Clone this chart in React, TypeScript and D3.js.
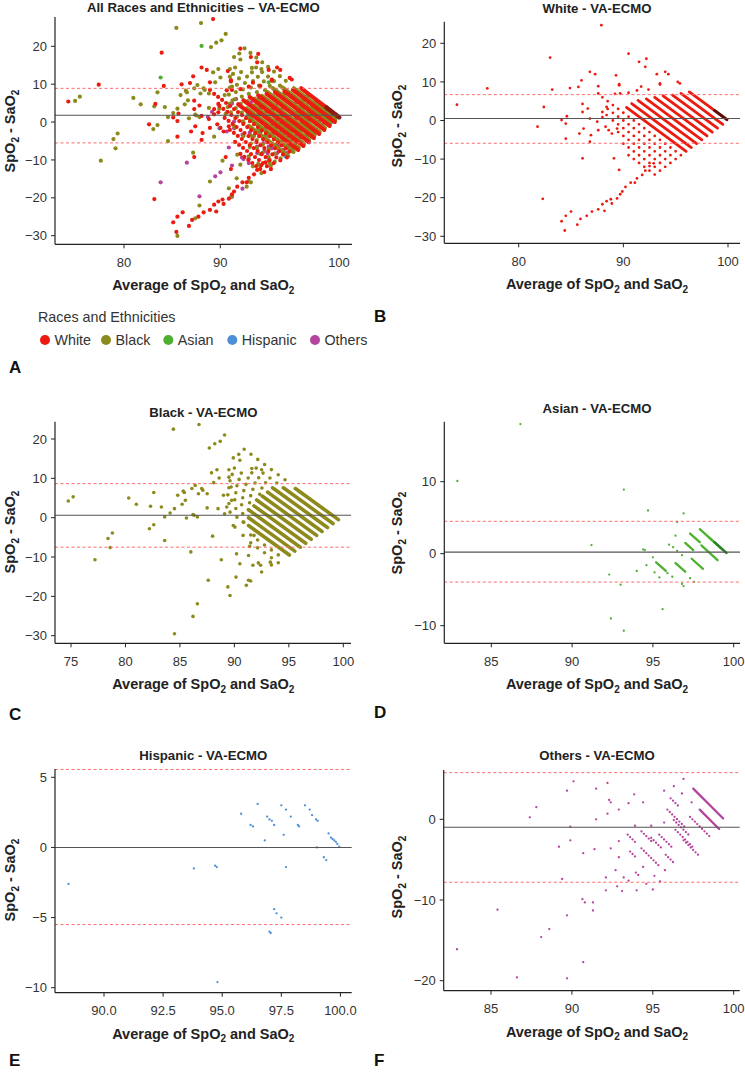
import React from "react";
import * as d3 from "d3";

type P = [number, number];
type S = [number, number, number, number];

// ---------- DATA (avg of SpO2 & SaO2, SpO2 - SaO2) ----------
const whitePoints: P[] = [
  [74.1, 4.1], [77.0, 8.3], [81.8, -1.6], [82.4, 3.5], [83.0, 16.3], [83.2, 8.0], [82.3, -20.3],
  [84.1, 0.1], [84.6, 1.1], [84.5, -0.8], [84.5, -4.7], [84.9, 8.4], [85.7, 8.7], [86.0, 10.4],
  [86.1, 4.3], [86.1, 2.2], [85.8, -3.4], [86.2, -2.1], [86.1, -9.8], [86.8, 12.6], [87.3, 12.0],
  [86.6, 3.1], [86.8, 0.5], [86.9, -3.8], [86.8, -5.5], [87.5, -0.3], [87.6, 8.9], [87.6, 7.0],
  [87.9, 24.7], [88.0, 2.2], [87.6, -2.5], [88.0, 0.9], [88.3, -1.6], [88.4, 3.5], [88.4, 1.4],
  [88.6, -2.5], [88.9, -3.4], [89.3, 11.7], [89.4, -2.1], [89.6, 9.1], [89.1, -9.8], [89.6, -12.8],
  [89.7, 7.0], [90.5, 17.3], [91.5, 15.2], [92.1, 13.9], [92.2, 16.0], [93.2, 12.0], [93.5, 9.6],
  [94.0, 12.6], [94.3, 12.0], [95.2, 10.0], [95.4, 9.6], [89.2, 6.9], [90.5, 7.2], [91.3, 7.8],
  [91.7, 8.8], [92.4, 8.0], [93.5, 9.3], [89.6, 9.4],
  [84.1, -26.1], [84.5, -24.7], [84.4, -28.5], [85.0, -23.6], [85.6, -27.0], [85.9, -25.5], [86.5, -24.7],
  [87.0, -23.6], [87.6, -23.0], [88.0, -21.7], [88.4, -20.9], [88.8, -20.4], [88.2, -23.4], [88.9, -21.5],
  [89.4, -20.2], [89.7, -19.1], [89.9, -18.4], [90.2, -17.2], [90.7, -16.1], [91.1, -16.1], [91.3, -15.0],
  [91.8, -14.1], [92.1, -13.0], [92.5, -11.8], [92.9, -11.1],
];
const whiteDense: S[] = [
  [96.3, 7.4, 99.9, 0.2], [95.5, 7.0, 99.5, -1.0], [94.7, 6.6, 99.0, -2.0], [93.8, 6.4, 98.5, -3.0],
  [93.0, 6.0, 98.0, -4.0], [92.2, 5.6, 97.5, -5.0], [91.4, 5.2, 97.0, -6.0], [90.8, 4.4, 96.5, -7.0],
  [90.3, 3.4, 96.0, -8.0],
];
const whiteSparse: S[] = [
  [88.0, 6.0, 95.5, -9.0], [88.5, 3.0, 95.0, -10.0], [89.0, 0.0, 94.5, -11.0],
  [89.5, -3.0, 94.0, -12.0], [90.0, -6.0, 93.5, -13.0], [90.5, -9.0, 93.0, -14.0],
];
const whiteOverlap: S[] = [[98.7, 2.6, 99.9, 0.2]];

const blackPoints: P[] = [
  [74.75, 4.24], [75.2, 5.3], [77.2, -10.7], [78.4, -5.3], [78.6, -7.6], [78.8, -3.9], [80.3, 5.0], [81.0, 3.4],
  [82.2, -2.8], [82.3, 2.9], [82.6, 6.4], [82.6, -1.8], [83.3, 2.7], [83.6, 0.2], [83.6, -5.8], [84.1, 1.2],
  [84.4, 22.5], [84.5, 2.3], [84.5, -29.5], [84.8, 5.7], [85.2, 3.4], [85.3, 6.8], [85.4, 6.4], [85.5, 4.4],
  [85.6, -0.1], [86.0, -8.7], [86.1, 7.4], [86.2, 0.8], [86.2, -25.1], [86.3, 0.6], [86.4, 8.2], [86.6, 0.2],
  [86.6, -21.9], [86.75, 23.7], [86.7, 6.1], [87.0, 7.4], [87.1, 7.0], [87.5, 2.5], [87.5, 6.1], [87.6, -15.9],
  [87.7, 17.7], [87.9, 11.4], [88.0, -4.7], [88.1, 8.9], [88.2, 18.8], [88.4, 12.2], [88.5, 2.3], [88.6, 10.1],
  [88.7, 19.4], [88.8, -10.7], [89.0, 5.7], [89.1, 21.0], [89.1, 1.0], [89.3, 2.7], [89.4, -17.6], [89.5, 12.2],
  [89.5, 10.3], [89.6, -19.8], [89.7, 7.8], [89.75, 4.4], [89.9, 15.2], [89.9, -2.0], [90.05, -2.4], [90.15, -15.1],
  [90.2, -9.2], [90.4, 16.1], [90.5, 14.6], [90.5, -11.7], [90.8, -1.1], [90.8, -4.5], [91.1, -17.2], [91.3, -15.9],
  [91.5, -16.1], [91.3, -9.6], [91.4, -7.3], [91.6, 12.5], [91.7, -12.1], [91.8, -4.5], [92.2, -11.5], [92.4, -12.1],
  [92.5, -13.8], [92.5, 12.2], [93.3, -11.3], [93.4, -12.0],
];
const blackDense: S[] = [
  [95.6, 7.4, 99.55, -0.5], [94.5, 7.6, 99.05, -1.5], [93.6, 7.4, 98.55, -2.5], [93.05, 6.5, 98.05, -3.5],
  [92.55, 5.5, 97.55, -4.5], [92.05, 4.5, 97.05, -5.5], [91.8, 3.0, 96.55, -6.5], [91.3, 2.0, 96.05, -7.5],
  [91.3, 0.0, 95.55, -8.5], [91.3, -2.0, 95.05, -9.5],
];
const blackSparse: S[] = [
  [90.9, 17.4, 95.1, 8.7], [92.0, 12.6, 94.5, 7.6], [91.6, 11.4, 93.6, 7.4],
  [90.0, 12.6, 93.05, 6.5], [89.8, 11.0, 92.55, 5.5], [89.6, 9.4, 92.05, 4.5], [89.5, 7.6, 91.8, 3.0],
  [89.4, 5.8, 91.3, 2.0], [89.5, 3.6, 91.3, 0.0], [89.6, 1.4, 91.3, -2.0],
  [91.5, -4.4, 94.55, -10.5], [91.5, -6.4, 94.05, -11.5],
];
const blackOverlap: S[] = [];

const asianPoints: P[] = [
  [82.9, 10.1], [86.8, 18.0], [91.2, 1.2], [92.3, -2.9], [92.4, -9.0], [93.0, -4.3], [93.2, 8.9], [93.2, -10.7],
  [94.0, -2.4], [94.4, 0.6], [94.5, 0.5], [94.6, -1.6], [94.7, 6.0], [95.0, -0.5], [95.1, -2.6], [95.4, -3.3],
  [95.6, -7.7], [95.9, -2.7], [96.2, -3.2], [96.0, 1.25], [96.25, 0.9], [96.4, 2.5], [96.5, 4.4], [96.5, 0.4],
  [96.8, -0.2], [96.9, 5.6], [96.8, -4.2], [96.9, -4.5], [97.3, -3.4], [97.55, -3.9],
];
const asianDense: S[] = [
  [98.5, 2.2, 99.55, 0.1], [97.9, 3.4, 99.3, 0.6], [98.0, 1.16, 99.0, -0.9], [97.4, -0.7, 98.1, -2.1],
  [97.3, 2.8, 97.9, 1.6], [97.0, 1.5, 97.5, 0.5], [96.4, -1.3, 97.0, -2.5], [95.2, -1.2, 95.8, -2.4],
];
const asianSparse: S[] = [];
const asianOverlap: S[] = [[98.8, 1.6, 99.55, 0.1]];

const hispanicPoints: P[] = [
  [88.5, -2.6], [93.8, -1.5], [94.7, -1.3], [94.77, -1.4], [94.8, -9.6], [95.8, 2.4], [96.2, 1.6], [96.3, 1.5],
  [96.5, 3.1], [96.8, 0.5], [96.9, 2.2], [97.0, 2.0], [97.1, 1.9], [97.0, -6.0], [97.05, -6.1], [97.2, -4.4],
  [97.3, -4.7], [97.2, 1.6], [97.5, 3.0], [97.5, -5.0], [97.6, 0.9], [97.7, 2.7], [97.7, -1.4], [97.9, 2.2],
  [98.2, 1.6], [98.25, 1.5], [98.5, 3.0], [98.7, 2.7], [98.8, 2.3], [98.97, 2.0], [99.04, 1.9], [99.0, 0.0],
  [99.3, -0.7], [99.4, -0.9], [99.5, 1.0], [99.6, 0.7], [99.67, 0.6], [99.74, 0.5], [99.81, 0.4], [99.87, 0.25],
  [99.95, 0.05],
];
const hispanicDense: S[] = [];
const hispanicSparse: S[] = [];
const hispanicOverlap: S[] = [];

const othersPoints: P[] = [
  [82.9, -16.1], [85.4, -11.2], [86.6, -19.6], [87.4, 0.25], [87.8, 1.5], [88.1, -14.6], [88.6, -13.6],
  [89.2, -3.4], [89.4, -7.4], [89.7, -11.9], [89.7, -19.7], [89.7, 3.55], [89.9, -0.9], [89.9, -2.6],
  [90.1, 4.7], [90.7, -4.2], [90.65, -9.9], [90.8, -10.3], [90.7, -17.7], [91.3, -10.3], [91.3, -11.3],
  [91.5, 3.8], [91.5, 0.0], [91.4, -3.7], [92.1, -7.2], [92.1, -8.8], [92.2, 0.7], [92.2, 4.5], [92.3, 2.4],
  [92.4, 2.1], [92.4, -3.6], [92.9, 1.2], [92.7, -6.3], [92.8, -8.3], [93.1, -8.9], [92.9, -2.7], [92.9, -4.7],
  [93.2, -7.2], [93.5, -7.6], [93.5, 2.0], [93.85, 3.1], [93.9, -0.8], [93.95, -6.6], [94.1, -6.9], [94.0, -8.8],
  [94.4, 2.1], [94.4, -5.9], [94.6, -8.0], [94.9, -0.8], [95.0, -8.7], [95.1, -7.0], [95.45, -7.7], [95.7, 3.55],
  [95.7, -0.4], [95.75, -6.3], [96.3, 4.1], [96.8, 3.2], [96.9, 5.0], [97.4, 2.1],
];
const othersDense: S[] = [[97.5, 3.8, 99.35, 0.1], [97.9, 1.2, 99.1, -1.2]];
const othersSparse: S[] = [
  [93.45, -1.9, 93.95, -2.9], [93.6, -4.0, 93.9, -4.6], [94.3, -1.5, 94.9, -2.7], [94.3, -3.6, 95.35, -5.7],
  [94.9, -2.3, 95.5, -3.5], [95.4, -1.9, 96.2, -3.5], [95.8, -4.4, 96.35, -5.5], [95.9, 1.2, 97.05, -1.1],
  [96.1, 2.6, 96.6, 1.6], [96.3, -0.1, 97.3, -2.1], [96.4, -1.3, 97.45, -3.4], [96.9, -2.6, 97.8, -4.4],
  [97.3, 0.3, 98.5, -2.1],
];
const othersOverlap: S[] = [];

const raceNames = ["White", "Black", "Asian", "Hispanic", "Others"];
const raceColors = ["#ec1b10", "#8d8a1c", "#4fb030", "#4c8fd6", "#b5449f"];
const overlapColors = ["#3b0a06", "#4a4810", "#24782a", "#2c5f9e", "#7a2a6a"];

const panelTitles = [
  "All Races and Ethnicities – VA-ECMO", "White - VA-ECMO", "Black - VA-ECMO",
  "Asian - VA-ECMO", "Hispanic - VA-ECMO", "Others - VA-ECMO",
];
const panelLetters = ["A", "B", "C", "D", "E", "F"];
// drawing order of races inside each panel (last drawn on top)
const panelRaces = [[3, 4, 2, 1, 0], [0], [1], [2], [3], [4]];
const xTickValues = [
  [80, 90, 100], [80, 90, 100], [75, 80, 85, 90, 95, 100],
  [85, 90, 95, 100], [90, 92.5, 95, 97.5, 100], [85, 90, 95, 100],
];
const yTickValues = [
  [-30, -20, -10, 0, 10, 20], [-30, -20, -10, 0, 10, 20], [-30, -20, -10, 0, 10, 20],
  [-10, 0, 10], [-10, -5, 0, 5], [-20, -10, 0],
];
const meanDiff = [1.8, 0.5, 0.6, 0.22, 0, -0.99];
const upperLoA = [8.9, 6.7, 8.65, 4.5, 5.56, 5.78];
const lowerLoA = [-5.5, -5.9, -7.5, -3.94, -5.5, -7.8];

const series = [
  { points: whitePoints, dense: whiteDense, sparse: whiteSparse, overlap: whiteOverlap },
  { points: blackPoints, dense: blackDense, sparse: blackSparse, overlap: blackOverlap },
  { points: asianPoints, dense: asianDense, sparse: asianSparse, overlap: asianOverlap },
  { points: hispanicPoints, dense: hispanicDense, sparse: hispanicSparse, overlap: hispanicOverlap },
  { points: othersPoints, dense: othersDense, sparse: othersSparse, overlap: othersOverlap },
];

// ---------- LAYOUT ----------
type Cal = { d: number[]; r: number[] };
type Layout = {
  left: number; right: number; top: number; bottom: number;
  xAxis: Cal; yAxis: Cal; xData?: Cal; yData?: Cal;
  cx: number; titleY: number; yLabelX: number; yLabelY: number;
  letterX: number; letterY: number; r: number; gaps: number[]; dec: boolean; overlapTint?: string;
};

const layouts: Layout[] = [
  { left: 55, right: 352, top: 17, bottom: 244.3, xAxis: { d: [80, 90, 100], r: [124, 220.3, 339] },
    yAxis: { d: [-30, 20], r: [235.7, 46.3] }, xData: { d: [74.1, 99.9], r: [68.3, 339] },
    yData: { d: [-30, 20], r: [237.9, 37.9] }, cx: 203.3, titleY: 12, yLabelX: 15, yLabelY: 131,
    letterX: 9, letterY: 372.7, r: 2.1, gaps: [5, 7.5, 5, 5, 4.5], dec: false, overlapTint: "#80170c" },
  { left: 444.3, right: 740, top: 21.7, bottom: 243.3, xAxis: { d: [80, 100], r: [518.7, 728] },
    yAxis: { d: [-30, 20], r: [236.3, 43.3] }, cx: 597, titleY: 12.7, yLabelX: 402, yLabelY: 126,
    letterX: 374, letterY: 322, r: 1.4, gaps: [6.5, 8, 8, 8, 8], dec: false },
  { left: 55, right: 351, top: 421.7, bottom: 643.3, xAxis: { d: [75, 100], r: [71, 343.3] },
    yAxis: { d: [-30, 20], r: [635.7, 439] }, cx: 203.3, titleY: 416.7, yLabelX: 15, yLabelY: 532,
    letterX: 9, letterY: 720, r: 1.8, gaps: [8.5, 8.5, 8.5, 8.5, 8.5], dec: false },
  { left: 444.3, right: 740, top: 421.7, bottom: 643.3, xAxis: { d: [85, 100], r: [491.3, 733.7] },
    yAxis: { d: [-10, 10], r: [625.7, 481.7] }, cx: 597, titleY: 413, yLabelX: 402, yLabelY: 533,
    letterX: 374, letterY: 718, r: 1.15, gaps: [3.2, 3.2, 3.2, 3.2, 3.2], dec: false },
  { left: 55, right: 351.7, top: 769, bottom: 992.7, xAxis: { d: [90, 100], r: [104, 340.4] },
    yAxis: { d: [-10, 5], r: [987.7, 777.3] }, cx: 203.3, titleY: 760, yLabelX: 15, yLabelY: 880,
    letterX: 9, letterY: 1066, r: 1.15, gaps: [3.2, 3.2, 3.2, 3.2, 3.2], dec: true },
  { left: 443.7, right: 739.7, top: 770, bottom: 990.7, xAxis: { d: [85, 100], r: [491, 733.7] },
    yAxis: { d: [-20, 0], r: [980.7, 819.3] }, cx: 597, titleY: 760, yLabelX: 402, yLabelY: 877,
    letterX: 374, letterY: 1066, r: 1.15, gaps: [3.4, 3.4, 3.4, 3.4, 3.4], dec: false },
];

const FONT = "'Liberation Sans', Arial, Helvetica, sans-serif";
const legendX = [45, 106, 168.3, 232.3, 315];
const fmtInt = (v: number) => (v < 0 ? "\u2212" + Math.abs(v) : String(v));

function Panel({ i }: { i: number }) {
  const L = layouts[i];
  const xa = d3.scaleLinear().domain(L.xAxis.d).range(L.xAxis.r);
  const ya = d3.scaleLinear().domain(L.yAxis.d).range(L.yAxis.r);
  const xd = L.xData ? d3.scaleLinear().domain(L.xData.d).range(L.xData.r) : xa;
  const yd = L.yData ? d3.scaleLinear().domain(L.yData.d).range(L.yData.r) : ya;
  const segPath = (s: S) => {
    const p = d3.path();
    p.moveTo(xd(s[0]), yd(s[1]));
    p.lineTo(xd(s[2]), yd(s[3]));
    return p.toString();
  };
  return (
    <g>
      {panelRaces[i].map((ri) => {
        const sr = series[ri];
        const col = raceColors[ri];
        return (
          <g key={ri}>
            {sr.sparse.map((s, k) => (
              <path key={"s" + k} d={segPath(s)} stroke={col} strokeWidth={L.r * 2}
                strokeLinecap="round" strokeDasharray={`0 ${L.gaps[ri]}`} fill="none" />
            ))}
            {sr.dense.map((s, k) => (
              <path key={"d" + k} d={segPath(s)} stroke={col} strokeWidth={L.r * 2}
                strokeLinecap="round" fill="none" />
            ))}
            {sr.overlap.map((s, k) => (
              <path key={"o" + k} d={segPath(s)} stroke={L.overlapTint && ri === 0 ? L.overlapTint : overlapColors[ri]}
                strokeWidth={L.r * 2} strokeLinecap="round" fill="none" opacity={0.85} />
            ))}
            {sr.points.map((p, k) => (
              <circle key={"p" + k} cx={xd(p[0])} cy={yd(p[1])} r={L.r} fill={col} />
            ))}
          </g>
        );
      })}
      <line x1={L.left} x2={L.right} y1={ya(upperLoA[i])} y2={ya(upperLoA[i])}
        stroke="#ff6b6b" strokeWidth={1} strokeDasharray="3 2.5" />
      <line x1={L.left} x2={L.right} y1={ya(lowerLoA[i])} y2={ya(lowerLoA[i])}
        stroke="#ff6b6b" strokeWidth={1} strokeDasharray="3 2.5" />
      <line x1={L.left} x2={L.right} y1={ya(meanDiff[i])} y2={ya(meanDiff[i])}
        stroke="#555" strokeWidth={1.1} />
      <line x1={L.left} x2={L.left} y1={L.top} y2={L.bottom} stroke="#222" strokeWidth={1.2} />
      <line x1={L.left} x2={L.right} y1={L.bottom} y2={L.bottom} stroke="#222" strokeWidth={1.2} />
      {xTickValues[i].map((t) => (
        <g key={"xt" + t}>
          <line x1={xa(t)} x2={xa(t)} y1={L.bottom} y2={L.bottom + 4} stroke="#222" strokeWidth={1} />
          <text x={xa(t)} y={L.bottom + 22.5} textAnchor="middle" fontSize={13} fill="#333">
            {L.dec ? t.toFixed(1) : fmtInt(t)}
          </text>
        </g>
      ))}
      {yTickValues[i].map((t) => (
        <g key={"yt" + t}>
          <line x1={L.left - 4} x2={L.left} y1={ya(t)} y2={ya(t)} stroke="#222" strokeWidth={1} />
          <text x={L.left - 8} y={ya(t) + 4.6} textAnchor="end" fontSize={13} fill="#333">
            {fmtInt(t)}
          </text>
        </g>
      ))}
      <text x={L.cx} y={L.titleY} textAnchor="middle" fontSize={13.2} fontWeight="bold" fill="#222">
        {panelTitles[i]}
      </text>
      <text x={L.cx} y={L.bottom + 46} textAnchor="middle" fontSize={14.5} fontWeight="bold" fill="#222"
        style={{ whiteSpace: "pre" }}>
        <tspan>Average of SpO</tspan>
        <tspan fontSize={10} dy={3.5}>2</tspan>
        <tspan dy={-3.5}> and SaO</tspan>
        <tspan fontSize={10} dy={3.5}>2</tspan>
      </text>
      <text transform={`translate(${L.yLabelX},${L.yLabelY}) rotate(-90)`} textAnchor="middle"
        fontSize={14.5} fontWeight="bold" fill="#222" style={{ whiteSpace: "pre" }}>
        <tspan>SpO</tspan>
        <tspan fontSize={10} dy={3.5}>2</tspan>
        <tspan dy={-3.5}> - SaO</tspan>
        <tspan fontSize={10} dy={3.5}>2</tspan>
      </text>
      <text x={L.letterX} y={L.letterY} fontSize={17} fontWeight="bold" fill="#111">
        {panelLetters[i]}
      </text>
    </g>
  );
}

export default function App() {
  return (
    <svg width={745} height={1072} style={{ position: "absolute", left: 0, top: 0, background: "#fff" }}
      fontFamily={FONT}>
      <rect width={745} height={1072} fill="#fff" />
      {layouts.map((_, i) => <Panel key={i} i={i} />)}
      <text x={38} y={322} fontSize={14.3} fill="#333">Races and Ethnicities</text>
      {raceNames.map((n, k) => (
        <g key={n}>
          <circle cx={legendX[k]} cy={340} r={5} fill={raceColors[k]} />
          <text x={legendX[k] + 9.5} y={345} fontSize={14.3} fill="#333">{n}</text>
        </g>
      ))}
    </svg>
  );
}
